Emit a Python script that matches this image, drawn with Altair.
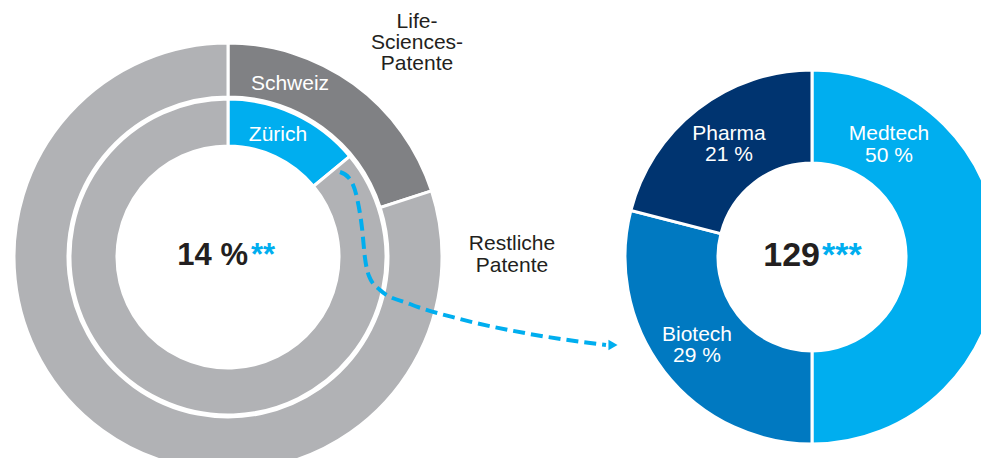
import altair as alt
import pandas as pd

# ring data
outer_cats = ["Schweiz", "Restliche (aussen)"]
outer_vals = [20, 80]
inner_cats = ["Zürich", "Restliche (innen)"]
inner_vals = [14, 86]
right_cats = ["Medtech", "Biotech", "Pharma"]
right_vals = [50, 29, 21]

palette_domain = outer_cats + inner_cats + right_cats
palette_range = ["#808184", "#B1B2B5", "#00AEEF", "#B1B2B5", "#00AEEF", "#0079C1", "#003470"]

# label texts
seg_labels = ["Schweiz", "Zürich", "Pharma", "21 %", "Medtech", "50 %", "Biotech", "29 %"]
side_labels = ["Life-", "Sciences-", "Patente", "Restliche", "Patente"]
center_left = ["14 %", "**"]
center_right = ["129", "***"]

# arrow path (pixel frame)
arrow_x = [340, 349, 357, 362, 365, 369, 380, 410, 460, 530, 606]
arrow_y = [172, 178, 198, 228, 258, 276, 290, 304, 319, 334, 345]

W, H = 973, 450
OFF = 8
xs = alt.Scale(domain=[0, W], nice=False, zero=False)
ys = alt.Scale(domain=[0, H], reverse=True, nice=False, zero=False)
col = alt.Color("cat:N", scale=alt.Scale(domain=palette_domain, range=palette_range), legend=None)
FONT = "Liberation Sans"


def ring(cats, vals, cx, cy, r_out, r_in):
    df = pd.DataFrame({"cat": cats, "val": vals, "idx": list(range(len(cats)))})
    return alt.Chart(df).mark_arc(
        outerRadius=r_out, innerRadius=r_in, stroke="white", strokeWidth=3
    ).encode(
        theta=alt.Theta("val:Q", stack=True),
        order=alt.Order("idx:Q"),
        color=col,
        x=alt.value(cx - OFF),
        y=alt.value(cy - OFF),
    )


outer = ring(outer_cats, outer_vals, 228, 257, 214, 160)
inner = ring(inner_cats, inner_vals, 228, 257, 158, 111)
right = ring(right_cats, right_vals, 812, 257, 187, 94)

# segment labels (white)
seg_x = [290, 278, 729, 729, 889, 889, 697, 697]
seg_y = [90, 141, 140, 161, 140, 162, 341, 362]
seg_df = pd.DataFrame({"t": seg_labels, "x": [v - OFF for v in seg_x], "y": [v - OFF for v in seg_y]})
seg_text = alt.Chart(seg_df).mark_text(
    font=FONT, fontSize=21, color="white", align="center", baseline="alphabetic"
).encode(x=alt.X("x:Q", scale=xs, axis=None), y=alt.Y("y:Q", scale=ys, axis=None), text="t:N")

side_x = [417, 417, 417, 512, 512]
side_y = [28, 49, 70, 250, 272]
side_df = pd.DataFrame({"t": side_labels, "x": [v - OFF for v in side_x], "y": [v - OFF for v in side_y]})
side_text = alt.Chart(side_df).mark_text(
    font=FONT, fontSize=21, color="#231F20", align="center", baseline="alphabetic"
).encode(x=alt.X("x:Q", scale=xs, axis=None), y=alt.Y("y:Q", scale=ys, axis=None), text="t:N")

big_df = pd.DataFrame({"t": [center_left[0], center_right[0]], "x": [248 - OFF, 820 - OFF],
                       "y": [265 - OFF, 266 - OFF], "s": [31, 34]})
big_text = alt.Chart(big_df).mark_text(
    font=FONT, fontWeight="bold", color="#231F20", align="right", baseline="alphabetic"
).encode(x=alt.X("x:Q", scale=xs, axis=None), y=alt.Y("y:Q", scale=ys, axis=None), text="t:N",
         size=alt.Size("s:Q", scale=None, legend=None))

star_df = pd.DataFrame({"t": [center_left[1], center_right[1]], "x": [251 - OFF, 822 - OFF],
                        "y": [265 - OFF, 266 - OFF], "s": [31, 34]})
star_text = alt.Chart(star_df).mark_text(
    font=FONT, fontWeight="bold", color="#00AEEF", align="left", baseline="alphabetic"
).encode(x=alt.X("x:Q", scale=xs, axis=None), y=alt.Y("y:Q", scale=ys, axis=None), text="t:N",
         size=alt.Size("s:Q", scale=None, legend=None))

arrow_df = pd.DataFrame({"x": [v - OFF for v in arrow_x], "y": [v - OFF for v in arrow_y], "i": list(range(len(arrow_x)))})
arrow_line = alt.Chart(arrow_df).mark_line(
    color="#00AEEF", strokeWidth=4, strokeDash=[12, 6], interpolate="monotone"
).encode(x=alt.X("x:Q", scale=xs, axis=None), y=alt.Y("y:Q", scale=ys, axis=None), order="i:Q")

head_df = pd.DataFrame({"x": [613 - OFF], "y": [345 - OFF]})
arrow_head = alt.Chart(head_df).mark_point(
    shape="triangle-right", filled=True, color="#00AEEF", size=110, opacity=1
).encode(x=alt.X("x:Q", scale=xs, axis=None), y=alt.Y("y:Q", scale=ys, axis=None))

chart = alt.layer(
    outer, inner, right, arrow_line, arrow_head, seg_text, side_text, big_text, star_text
).resolve_scale(theta="independent").properties(
    width=W, height=H, padding=0, autosize=alt.AutoSizeParams(type="none")
).configure_view(stroke=None)

chart.save("out.html", embed_options={"renderer": "svg", "actions": False})
